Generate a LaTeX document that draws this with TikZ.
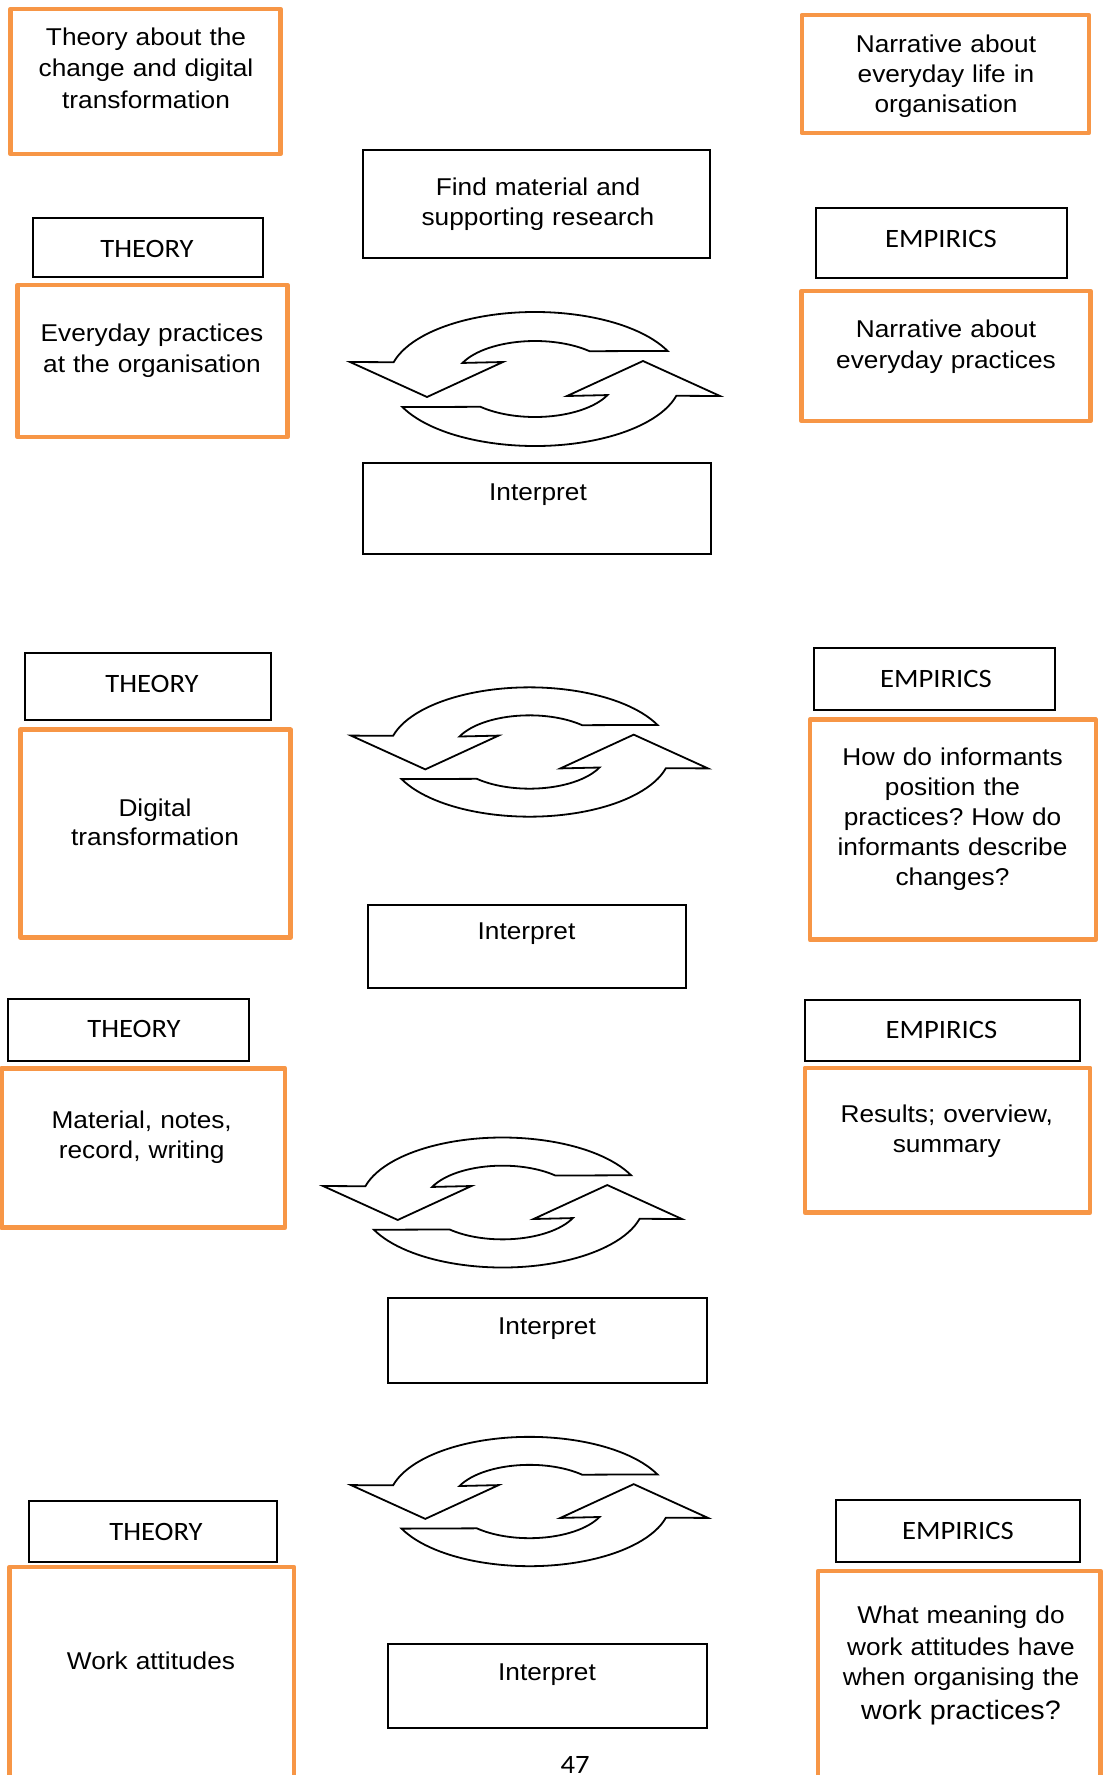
\documentclass[tikz,border=0pt]{standalone}
\usepackage{fontspec}
\setmainfont{Liberation Sans}[FakeStretch=1.08]
\newfontfamily\calibrifont{Carlito}[FakeStretch=1.08]
\definecolor{accentorange}{RGB}{247,150,70}
\frenchspacing

\tikzset{
  every node/.style={inner sep=0pt, outer sep=0pt},
  labelbox/.style={draw=black, line width=1.8pt, fill=white},
  notebox/.style={draw=accentorange, line width=4.5pt, line join=round},
  bodytext/.style={font=\fontsize{24.3}{30}\selectfont, align=center, text width=330pt, anchor=base},
  headtext/.style={font=\calibrifont\fontsize{26.5}{32}\selectfont, anchor=base},
  arrowline/.style={draw=black, line width=1.8pt, fill=white, line join=miter},
  % two curved arrows chasing each other round an ellipse
  cyclearrows/.pic={
    \begin{scope}[yscale=-1]
      \foreach \turn in {0,180}{
        \draw[arrowline, rotate=\turn]
          (24.8:146 and 67) arc[start angle=24.8, end angle=165.5, x radius=146, y radius=67]
          -- (-185,17) -- (-108,-18) -- (-32,17)
          -- (155:80 and 38) arc[start angle=155, end angle=47, x radius=80, y radius=38]
          -- cycle;
      }
    \end{scope}
  }
}

\begin{document}
\begin{tikzpicture}[x=1pt, y=-1pt]
  \fill[white] (0,0) rectangle (1104,1775);
  \useasboundingbox (0,0) rectangle (1104,1775);
  \clip (0,0) rectangle (1104,1775);

  % ---------- first round ----------
  \node[notebox, minimum width=270pt, minimum height=145pt] (o1) at (145.6,81.5) {};
  \node[bodytext, font=\fontsize{24.3}{31.5}\selectfont] (o1t) at (146,45) {Theory about the\\change and digital\\transformation};

  \node[notebox, minimum width=287pt, minimum height=118pt] (o2) at (945.3,74) {};
  \node[bodytext] (o2t) at (946,52) {Narrative about\\everyday life in\\organisation};

  \node[labelbox, minimum width=347pt, minimum height=108pt] (f1) at (536.5,204) {};
  \node[bodytext] (f1t) at (538,195) {Find material and\\supporting research};

  \node[labelbox, minimum width=230pt, minimum height=59pt] (t1) at (148,247.5) {};
  \node[headtext] (t1t) at (147,257) {THEORY};

  \node[labelbox, minimum width=251pt, minimum height=70pt] (e1) at (941.5,243) {};
  \node[headtext] (e1t) at (941,247) {EMPIRICS};

  \node[notebox, minimum width=270pt, minimum height=152pt] (o3) at (152.5,361) {};
  \node[bodytext, font=\fontsize{24.3}{31}\selectfont] (o3t) at (152,341) {Everyday practices\\at the organisation};

  \node[notebox, minimum width=289pt, minimum height=130pt] (o4) at (946,356) {};
  \node[bodytext, font=\fontsize{24.3}{31}\selectfont] (o4t) at (946,337) {Narrative about\\everyday practices};

  \pic (loopa) at (535,379) {cyclearrows};

  \node[labelbox, minimum width=348pt, minimum height=91pt] (i1) at (537,508.5) {};
  \node[bodytext] (i1t) at (538,500) {Interpret};

  % ---------- second round ----------
  \node[labelbox, minimum width=246pt, minimum height=67pt] (t2) at (148,686.5) {};
  \node[headtext] (t2t) at (152,692) {THEORY};

  \node[labelbox, minimum width=241pt, minimum height=62pt] (e2) at (934.5,679) {};
  \node[headtext] (e2t) at (936,687) {EMPIRICS};

  \node[notebox, minimum width=270pt, minimum height=208pt] (o5) at (155.5,833.7) {};
  \node[bodytext, font=\fontsize{24.3}{29}\selectfont] (o5t) at (155,816) {Digital\\transformation};

  \node[notebox, minimum width=286pt, minimum height=220pt] (o6) at (952.9,829.7) {};
  \node[bodytext] (o6t) at (952.5,765) {How do informants\\position the\\practices? How do\\informants describe\\changes?};

  \pic[scale=0.965] (loopb) at (529.5,752) {cyclearrows};

  \node[labelbox, minimum width=318pt, minimum height=83pt] (i2) at (527,946.5) {};
  \node[bodytext] (i2t) at (526.5,939.5) {Interpret};

  % ---------- third round ----------
  \node[labelbox, minimum width=241pt, minimum height=62pt] (t3) at (128.5,1030) {};
  \node[headtext] (t3t) at (134,1037) {THEORY};

  \node[labelbox, minimum width=275pt, minimum height=61pt] (e3) at (942.5,1030.5) {};
  \node[headtext] (e3t) at (941.5,1038) {EMPIRICS};

  \node[notebox, minimum width=283.5pt, minimum height=159.4pt] (o7) at (143.2,1148) {};
  \node[bodytext] (o7t) at (141.7,1128) {Material, notes,\\record, writing};

  \node[notebox, minimum width=285.4pt, minimum height=144.7pt] (o8) at (947.5,1140.2) {};
  \node[bodytext] (o8t) at (946.7,1122) {Results; overview,\\summary};

  \pic[scale=0.97] (loopc) at (502.5,1202.5) {cyclearrows};

  \node[labelbox, minimum width=319pt, minimum height=85pt] (i3) at (547.5,1340.5) {};
  \node[bodytext] (i3t) at (547,1334) {Interpret};

  % ---------- fourth round ----------
  \pic[scale=0.965] (loopd) at (529.5,1501.5) {cyclearrows};

  \node[labelbox, minimum width=248pt, minimum height=61pt] (t4) at (153,1531.5) {};
  \node[headtext] (t4t) at (156,1540) {THEORY};

  \node[labelbox, minimum width=244pt, minimum height=62pt] (e4) at (958,1531) {};
  \node[headtext] (e4t) at (958,1539) {EMPIRICS};

  \node[notebox, minimum width=284.5pt, minimum height=223pt] (o9) at (151.75,1678.5) {};
  \node[bodytext] (o9t) at (151,1669) {Work attitudes};

  \node[notebox, minimum width=282.5pt, minimum height=219pt] (o10) at (959.25,1680.5) {};
  \node[bodytext] (o10t) at (961,1623) {What meaning do\\[2pt]work attitudes have\\when organising the\\[4pt]{\fontsize{26.6}{30}\selectfont work practices?}};

  \node[labelbox, minimum width=319pt, minimum height=84pt] (i4) at (547.5,1686) {};
  \node[bodytext] (i4t) at (547,1680) {Interpret};

  % page number
  \node[headtext] (pageno) at (575,1773) {47};
\end{tikzpicture}
\end{document}
